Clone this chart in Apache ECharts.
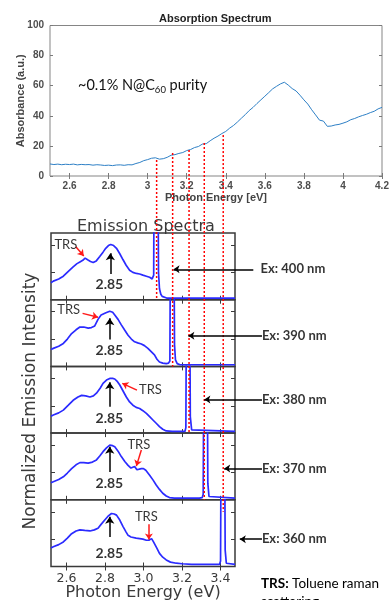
<!DOCTYPE html>
<html><head><meta charset="utf-8">
<script src="https://cdn.jsdelivr.net/npm/echarts@6/dist/echarts.min.js"></script>
<style>html,body{margin:0;padding:0;background:#fff}#c{width:391px;height:600px}</style>
</head><body><div id="c"></div><script>
// ---------- Absorption spectrum ----------
const absEnergy = [2.50,2.52,2.54,2.56,2.58,2.60,2.62,2.64,2.66,2.68,2.70,2.72,2.74,2.76,2.78,2.80,2.82,2.84,2.86,2.88,2.90,2.92,2.94,2.96,2.98,3.00,3.02,3.04,3.06,3.08,3.10,3.12,3.14,3.16,3.18,3.20,3.22,3.24,3.26,3.28,3.30,3.32,3.34,3.36,3.38,3.40,3.42,3.44,3.46,3.48,3.50,3.52,3.54,3.56,3.58,3.60,3.62,3.64,3.66,3.68,3.70,3.72,3.74,3.76,3.78,3.80,3.82,3.84,3.86,3.88,3.90,3.92,3.94,3.96,3.98,4.00,4.02,4.04,4.06,4.08,4.10,4.12,4.14,4.16,4.18,4.20];
const absValue = [8.0,7.6,7.9,7.5,7.8,7.6,7.9,7.4,7.7,7.5,7.6,7.2,7.5,7.3,7.0,7.2,6.9,7.3,7.4,7.1,7.5,7.4,8.3,9.0,10.2,10.9,11.8,12.1,11.2,11.5,12.4,13.8,14.2,15.0,15.6,16.9,17.6,18.9,19.6,21.2,21.5,23.4,25.1,26.5,28.2,29.6,31.8,33.6,35.9,38.4,40.8,43.5,45.6,48.2,50.6,53.0,55.4,57.9,59.6,61.2,62.3,60.4,58.1,56.5,53.7,50.6,47.8,44.0,40.6,37.1,36.5,33.0,33.2,33.9,34.3,35.1,36.0,37.4,38.2,39.3,40.2,41.0,42.1,43.0,44.6,45.6];
const absXTicks = [2.6,2.8,3.0,3.2,3.4,3.6,3.8,4.0,4.2];

// excitation lines (energy on absorption axis, top value)
const redLineE = [3.046,3.128,3.212,3.290,3.387];
const redLineTop = [10.6,15.3,17.3,21.9,27.2];

// ---------- Emission spectra ----------
const em400E = [2.52,2.532,2.56,2.584,2.61,2.635,2.655,2.67,2.685,2.697,2.703,2.71,2.725,2.739,2.755,2.773,2.79,2.804,2.818,2.83,2.845,2.86,2.877,2.894,2.91,2.928,2.945,2.963,2.98,2.997,3.015,3.032,3.045,3.05,3.053,3.055,3.075,3.078,3.083,3.09,3.097,3.105,3.12,3.2,3.3,3.4,3.475];
const em400I = [0.31,0.34,0.38,0.43,0.52,0.60,0.66,0.69,0.72,0.76,0.78,0.73,0.70,0.68,0.71,0.79,0.87,0.94,0.99,1.01,0.99,0.94,0.84,0.73,0.63,0.54,0.50,0.48,0.47,0.45,0.43,0.41,0.38,0.36,0.45,2.5,2.5,0.5,0.2,0.1,0.06,0.04,0.03,0.03,0.03,0.03,0.03];
const em390E = [2.52,2.532,2.56,2.584,2.605,2.627,2.65,2.67,2.69,2.713,2.73,2.747,2.764,2.78,2.79,2.805,2.825,2.84,2.851,2.868,2.885,2.903,2.92,2.937,2.954,2.97,2.989,3.005,3.023,3.04,3.057,3.07,3.083,3.1,3.118,3.13,3.137,3.14,3.158,3.161,3.166,3.175,3.19,3.3,3.475];
const em390I = [0.31,0.33,0.37,0.42,0.50,0.60,0.67,0.72,0.72,0.70,0.71,0.74,0.86,0.94,0.97,0.98,1.01,0.99,0.94,0.86,0.76,0.66,0.57,0.50,0.45,0.43,0.41,0.38,0.33,0.27,0.21,0.13,0.08,0.06,0.05,0.06,0.1,2.5,2.5,0.4,0.12,0.05,0.03,0.03,0.03];
const em380E = [2.52,2.532,2.56,2.584,2.61,2.635,2.66,2.679,2.7,2.722,2.74,2.756,2.775,2.79,2.808,2.825,2.84,2.851,2.865,2.877,2.894,2.911,2.928,2.945,2.962,2.98,2.997,3.015,3.032,3.049,3.066,3.083,3.1,3.118,3.15,3.19,3.215,3.22,3.223,3.24,3.243,3.25,3.26,3.475];
const em380I = [0.31,0.33,0.37,0.42,0.51,0.60,0.66,0.69,0.68,0.66,0.68,0.73,0.82,0.91,0.97,1.0,1.0,0.99,0.94,0.88,0.77,0.66,0.57,0.51,0.47,0.45,0.41,0.36,0.30,0.24,0.18,0.12,0.07,0.04,0.03,0.03,0.03,0.1,2.5,2.5,0.3,0.06,0.03,0.03];
const em370E = [2.52,2.532,2.56,2.584,2.605,2.627,2.65,2.67,2.69,2.713,2.735,2.756,2.773,2.79,2.808,2.825,2.84,2.851,2.868,2.885,2.903,2.92,2.935,2.945,2.954,2.96,2.966,2.978,2.989,3.0,3.012,3.032,3.05,3.066,3.083,3.1,3.118,3.135,3.16,3.22,3.29,3.305,3.31,3.313,3.331,3.334,3.34,3.35,3.475];
const em370I = [0.31,0.33,0.37,0.42,0.49,0.57,0.64,0.68,0.68,0.67,0.69,0.73,0.80,0.88,0.95,1.0,0.99,0.97,0.89,0.79,0.70,0.63,0.58,0.57,0.61,0.58,0.55,0.56,0.57,0.57,0.54,0.45,0.36,0.27,0.19,0.12,0.07,0.04,0.03,0.03,0.03,0.04,0.1,2.5,2.5,0.3,0.06,0.03,0.03];
const em360E = [2.52,2.532,2.56,2.584,2.605,2.627,2.65,2.67,2.695,2.722,2.745,2.764,2.78,2.799,2.816,2.834,2.848,2.86,2.877,2.894,2.91,2.92,2.935,2.945,2.962,2.98,2.997,3.015,3.028,3.035,3.042,3.046,3.052,3.057,3.07,3.083,3.1,3.118,3.14,3.17,3.2,3.25,3.35,3.395,3.4,3.403,3.421,3.424,3.43,3.44,3.475];
const em360I = [0.34,0.36,0.40,0.45,0.52,0.60,0.65,0.67,0.66,0.65,0.67,0.70,0.77,0.85,0.92,0.97,0.96,0.94,0.85,0.73,0.63,0.57,0.54,0.53,0.52,0.51,0.50,0.48,0.48,0.48,0.51,0.50,0.45,0.42,0.33,0.24,0.17,0.12,0.08,0.06,0.05,0.04,0.04,0.04,0.1,2.5,2.5,0.3,0.06,0.04,0.04];
const emXTicks = [2.6,2.8,3.0,3.2,3.4];
const emYTicks = [0.5,1.0];

// annotations (emission panel coordinates)
const peakLabel = '2.85';
const peakArrowE = [2.828,2.825,2.825,2.825,2.825];
const peakArrowFrom = [0.47,0.49,0.48,0.51,0.54];
const peakArrowTo = [0.85,0.88,0.93,0.97,0.91];
const peakLabelE = [2.823,2.823,2.823,2.823,2.823];
const peakLabelY = [0.27,0.30,0.27,0.30,0.24];
const trsLabelE = [2.597,2.612,3.036,2.976,3.015];
const trsLabelY = [1.0,1.03,0.80,1.0,0.90];
const trsFrom = [[2.649,0.97],[2.684,0.97],[2.966,0.786],[2.989,0.91],[3.028,0.775]];
const trsTo = [[2.690,0.80],[2.764,0.90],[2.890,0.91],[2.963,0.616],[3.028,0.495]];
const exLabels = ['Ex: 400 nm','Ex: 390 nm','Ex: 380 nm','Ex: 370 nm','Ex: 360 nm'];
const exHeadE = [3.156,3.233,3.316,3.419,3.500];
const exTailE = [3.570,3.615,3.615,3.615,3.615];
const exLabelE = [3.605,3.612,3.612,3.612,3.612];
const exY = [0.556,0.56,0.616,0.574,0.50];

const emE = [em400E,em390E,em380E,em370E,em360E];
const emI = [em400I,em390I,em380I,em370I,em360I];

const chart = echarts.init(document.getElementById('c'), null, {renderer:'canvas'});

const emLeft = 51, emWidth = 184, emTop = 233, emH = 66.7;
const emMin = 2.52, emMax = 3.475;

const grids = [{left:50, top:25.5, width:332, height:150.5, show:true, borderColor:'#858585', borderWidth:1, backgroundColor:'#fff', containLabel:false, outerBoundsMode:'none'}];
for (let i=0;i<5;i++) grids.push({left:emLeft, top:emTop+i*emH, width:emWidth, height:emH, show:true, borderColor:'#3a3a3a', borderWidth:1.5, backgroundColor:'transparent', containLabel:false, outerBoundsMode:'none'});

const topTickStyle = {color:'#7a7a7a', width:1};
const absLabelStyle = {fontFamily:'Liberation Sans', fontWeight:'bold', fontSize:10, color:'#4d4d4d'};
const xAxes = [
  {gridIndex:0, type:'value', min:2.5, max:4.2, position:'bottom', axisLine:{show:false}, splitLine:{show:false},
   axisTick:{inside:true, length:3, customValues:absXTicks, lineStyle:topTickStyle},
   axisLabel:Object.assign({customValues:absXTicks, margin:5, formatter:v=>String(Math.round(v*10)/10)}, absLabelStyle),
   name:'Photon Energy [eV]', nameLocation:'middle', nameGap:16, nameMoveOverlap:false,
   nameTextStyle:{fontFamily:'Liberation Sans', fontWeight:'bold', fontSize:11, color:'#444'}},
  {gridIndex:0, type:'value', min:2.5, max:4.2, position:'top', axisLine:{show:false}, splitLine:{show:false},
   axisTick:{inside:true, length:3, customValues:absXTicks, lineStyle:topTickStyle}, axisLabel:{show:false}}
];
const yAxes = [
  {gridIndex:0, type:'value', min:0, max:100, interval:20, position:'left', axisLine:{show:false}, splitLine:{show:false},
   axisTick:{inside:true, length:3, lineStyle:topTickStyle},
   axisLabel:Object.assign({margin:6}, absLabelStyle),
   name:'Absorbance (a.u.)', nameLocation:'middle', nameGap:24, nameMoveOverlap:false,
   nameTextStyle:{fontFamily:'Liberation Sans', fontWeight:'bold', fontSize:11, color:'#444'}},
  {gridIndex:0, type:'value', min:0, max:100, interval:20, position:'right', axisLine:{show:false}, splitLine:{show:false},
   axisTick:{inside:true, length:3, lineStyle:topTickStyle}, axisLabel:{show:false}}
];
const emTick = {color:'#3a3a3a', width:1};
for (let i=0;i<5;i++){
  const g = i+1, last = i===4;
  xAxes.push({gridIndex:g, type:'value', min:emMin, max:emMax, position:'bottom', axisLine:{show:false}, splitLine:{show:false},
    axisTick:{inside:true, length:4, customValues:emXTicks, lineStyle:emTick},
    axisLabel: last ? {customValues:emXTicks, margin:6, fontFamily:'DejaVu Sans', fontSize:12.5, color:'#3a3a3a', formatter:v=>v.toFixed(1)} : {show:false},
    name: last ? 'Photon Energy (eV)' : '', nameLocation:'middle', nameGap:18, nameMoveOverlap:false,
    nameTextStyle:{fontFamily:'DejaVu Sans', fontSize:16, color:'#3a3a3a'}});
  xAxes.push({gridIndex:g, type:'value', min:emMin, max:emMax, position:'top', axisLine:{show:false}, splitLine:{show:false},
    axisTick:{inside:true, length:4, customValues:emXTicks, lineStyle:emTick}, axisLabel:{show:false}});
  yAxes.push({gridIndex:g, type:'value', min:0, max:1.22, position:'left', axisLine:{show:false}, splitLine:{show:false},
    axisTick:{inside:true, length:4, customValues:emYTicks, lineStyle:emTick}, axisLabel:{show:false}});
  yAxes.push({gridIndex:g, type:'value', min:0, max:1.22, position:'right', axisLine:{show:false}, splitLine:{show:false},
    axisTick:{inside:true, length:4, customValues:emYTicks, lineStyle:emTick}, axisLabel:{show:false}});
}

const series = [];
series.push({type:'line', xAxisIndex:0, yAxisIndex:0, symbol:'none', data:absEnergy.map((e,k)=>[e, absValue[k]]),
  lineStyle:{color:'#2e80c6', width:1}, z:3});

emE.forEach((E,i)=>{
  const ax = 2+2*i;
  series.push({type:'line', xAxisIndex:ax, yAxisIndex:ax, symbol:'none', data:E.map((x,k)=>[x, emI[i][k]]),
    lineStyle:{color:'#2b2bff', width:1.7}, z:3});
  // 2.85 arrow
  series.push({type:'lines', coordinateSystem:'cartesian2d', xAxisIndex:ax, yAxisIndex:ax, clip:false, z:7,
    symbol:['none','arrow'], symbolSize:7,
    lineStyle:{color:'#000', width:1.5, opacity:1, curveness:0},
    data:[{coords:[[peakArrowE[i], peakArrowFrom[i]],[peakArrowE[i], peakArrowTo[i]]]}]});
  // TRS arrow
  series.push({type:'lines', coordinateSystem:'cartesian2d', xAxisIndex:ax, yAxisIndex:ax, clip:false, z:7,
    symbol:['none','arrow'], symbolSize:6,
    lineStyle:{color:'#ff1a1a', width:1.5, opacity:1, curveness:0},
    data:[{coords:[trsFrom[i], trsTo[i]]}]});
  // Ex arrow
  series.push({type:'lines', coordinateSystem:'cartesian2d', xAxisIndex:ax, yAxisIndex:ax, clip:false, z:7,
    symbol:['none','arrow'], symbolSize:6,
    lineStyle:{color:'#000', width:1.5, opacity:1, curveness:0},
    data:[{coords:[[exTailE[i], exY[i]],[exHeadE[i], exY[i]]]}]});
  // text labels
  series.push({type:'scatter', xAxisIndex:ax, yAxisIndex:ax, clip:false, silent:true, z:8, symbolSize:1,
    itemStyle:{color:'rgba(0,0,0,0)'},
    data:[
      {value:[peakLabelE[i], peakLabelY[i]], name:peakLabel, label:{position:'inside', fontFamily:'Lato', fontWeight:'bold', fontSize:14, color:'#000'}},
      {value:[trsLabelE[i], trsLabelY[i]], name:'TRS', label:{position:'inside', fontFamily:'Lato', fontWeight:'normal', fontSize:13, color:'#000'}},
      {value:[exLabelE[i], exY[i]], name:exLabels[i], label:{position:'right', distance:0, fontFamily:'Lato', fontWeight:'bold', fontSize:13, color:'#000'}}
    ],
    label:{show:true, formatter:'{b}'}});
});

const option = {
  animation:false,
  backgroundColor:'#fff',
  title:[
    {text:'Absorption Spectrum', left:154, top:8, textStyle:{fontFamily:'Liberation Sans', fontWeight:'bold', fontSize:11, color:'#222'}},
    {text:'{a|~0.1% N@C}{s|60}{a| purity}', left:73, top:70, textStyle:{fontWeight:'normal', rich:{
      a:{fontFamily:'Lato', fontWeight:'normal', fontSize:14.5, color:'#111', lineHeight:20},
      s:{fontFamily:'Lato', fontWeight:'normal', fontSize:9.5, color:'#111', verticalAlign:'bottom'}}}},
    {text:'Emission Spectra', left:72, top:214, textStyle:{fontFamily:'DejaVu Sans', fontWeight:'normal', fontSize:16, color:'#3a3a3a'}},
    {text:'{b|TRS:}{n| Toluene raman}\n{n|scattering}', left:256, top:570, textStyle:{fontWeight:'normal', rich:{
      b:{fontFamily:'Lato', fontWeight:'bold', fontSize:13.5, color:'#000', lineHeight:18},
      n:{fontFamily:'Lato', fontWeight:'normal', fontSize:13.5, color:'#000', lineHeight:18}}}}
  ],
  graphic:[
    {type:'text', x:31, y:401, rotation:Math.PI/2,
     style:{text:'Normalized Emission Intensity', font:'17px "DejaVu Sans"', fill:'#3a3a3a',
            textAlign:'center', textVerticalAlign:'middle', align:'center', verticalAlign:'middle'}}
  ],
  grid:grids, xAxis:xAxes, yAxis:yAxes, series:series
};
chart.setOption(option);

// red dotted excitation lines: from absorption curve down to the bottom of the matching emission panel
const redSeries = redLineE.map((e,i)=>{
  const ax = 2+2*i;
  const px = chart.convertToPixel({xAxisIndex:ax, yAxisIndex:ax}, [3.0, 0]);
  const v = chart.convertFromPixel({xAxisIndex:0, yAxisIndex:0}, px);
  return {type:'line', xAxisIndex:0, yAxisIndex:0, clip:false, symbol:'none', z:6,
    data:[[e, redLineTop[i]],[e, v[1]]], lineStyle:{color:'#ff0000', width:1.5, type:[2,2]}};
});
chart.setOption({series: series.concat(redSeries)});
</script></body></html>
